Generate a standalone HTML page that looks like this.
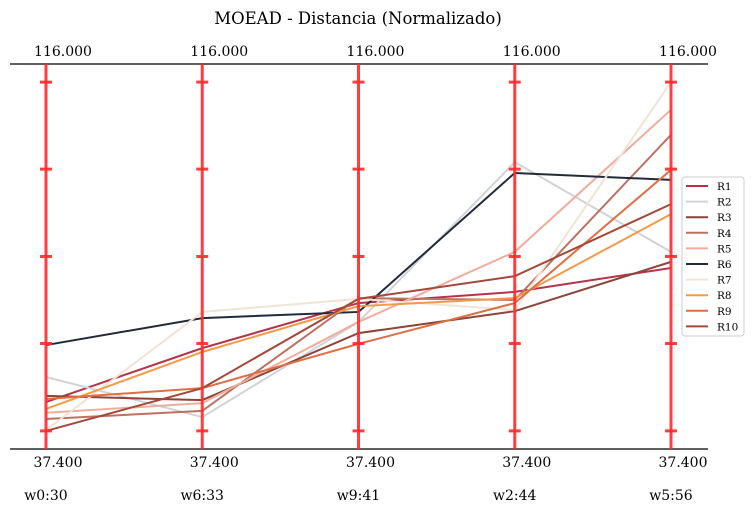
<!DOCTYPE html>
<html><head><meta charset="utf-8"><style>
body{margin:0;background:#fff;width:753px;height:513px;overflow:hidden}
svg{font-family:"DejaVu Serif","Liberation Serif",serif}
</style></head><body>
<svg id="chart" width="753" height="513">
<text x="358" y="24" text-anchor="middle" font-size="16.5">MOEAD - Distancia (Normalizado)</text>
<line x1="10" y1="64" x2="708" y2="64" stroke="#000" stroke-width="1.2"/>
<line x1="10" y1="449" x2="708" y2="449" stroke="#000" stroke-width="1.2"/>
<g id="lines"></g><g id="axes"></g><g id="legend"></g>
</svg>
<script>
const categories=["w0:30","w6:33","w9:41","w2:44","w5:56"];
const topLabels=["116.000","116.000","116.000","116.000","116.000"];
const bottomLabels=["37.400","37.400","37.400","37.400","37.400"];
const seriesNames=["R1","R2","R3","R4","R5","R6","R7","R8","R9","R10"];
const seriesColors=["#b5334b","#d2d3d7","#8b4437","#bd7160","#f0ad9e","#212a38","#f0e4d4","#f39a49","#dc6f45","#a4483a"];
const R1=[0.122,0.262,0.379,0.408,0.470];
const R2=[0.187,0.083,0.330,0.745,0.512];
const R3=[0.138,0.127,0.301,0.358,0.486];
const R4=[0.078,0.099,0.392,0.387,0.816];
const R5=[0.094,0.119,0.330,0.512,0.881];
const R6=[0.270,0.340,0.356,0.717,0.699];
const R7=[0.049,0.356,0.390,0.361,0.953];
const R8=[0.104,0.252,0.371,0.392,0.610];
const R9=[0.130,0.158,0.273,0.379,0.725];
const R10=[0.047,0.158,0.390,0.449,0.636];
const seriesValues=[R1,R2,R3,R4,R5,R6,R7,R8,R9,R10];
const tickFractions=[0.047,0.274,0.5,0.727,0.953];
const NS="http://www.w3.org/2000/svg";
function xs(i){return 46+i*156.25;}
function ys(v){return 449-v*385;}
function mk(t,a,p){const e=document.createElementNS(NS,t);for(const k in a)e.setAttribute(k,a[k]);p.appendChild(e);return e;}
const L=document.getElementById('lines'),A=document.getElementById('axes'),G=document.getElementById('legend');
seriesValues.forEach((s,j)=>{
 const p=mk('polyline',{points:s.map((v,i)=>xs(i)+','+ys(v)).join(' '),fill:'none',stroke:seriesColors[j],'stroke-width':2},L);
 
 
});
categories.forEach((c,i)=>{
 const x=xs(i);
 const a=mk('line',{x1:x,y1:64,x2:x,y2:449,stroke:'#ff2a2a','stroke-opacity':0.9,'stroke-width':3},A);
 
 
 tickFractions.forEach(f=>{const t=mk('line',{x1:x-6,x2:x+6,y1:ys(f),y2:ys(f),stroke:'#ff2a2a','stroke-opacity':0.9,'stroke-width':3},A);
  
  });
 const tl=mk('text',{x:x+17,y:56,'text-anchor':'middle','font-size':14},A);tl.textContent=topLabels[i];
 
 
 const bl=mk('text',{x:x+12,y:467,'text-anchor':'middle','font-size':14},A);bl.textContent=bottomLabels[i];
 
 
 const cl=mk('text',{x:x,y:500,'text-anchor':'middle','font-size':14},A);cl.textContent=c;
 
 
});
const box=mk('rect',{x:682,y:177,width:62,height:159,rx:3,fill:'#fff','fill-opacity':0.85,stroke:'#ccc'},G);


seriesNames.forEach((n,j)=>{
 const y=186+j*15.6;
 const ln=mk('line',{x1:686,x2:708,y1:y,y2:y,stroke:seriesColors[j],'stroke-width':2},G);
 
 
 const t=mk('text',{x:717,y:y+4,'font-size':10.5},G);t.textContent=n;
 
 
});
</script>
</body></html>
